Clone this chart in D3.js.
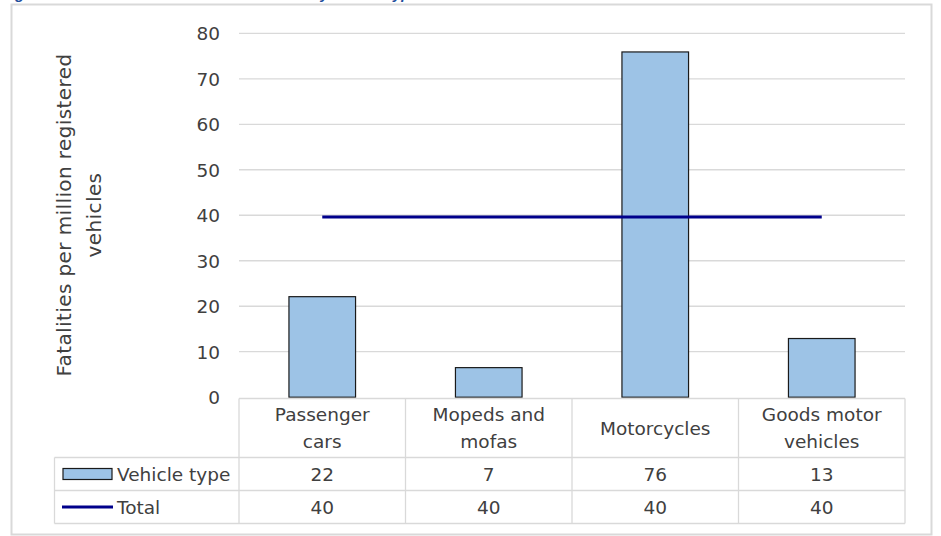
<!DOCTYPE html>
<html>
<head>
<meta charset="utf-8">
<script src="https://cdn.jsdelivr.net/npm/d3@7"></script>
<style>
  body { margin: 0; background: #fff; }
  svg { display: block; }
  text { font-family: "DejaVu Sans", sans-serif; fill: #404040; }
</style>
</head>
<body>
<div id="chart"></div>
<script>
// data
var categories = [["Passenger", "cars"], ["Mopeds and", "mofas"], ["Motorcycles"], ["Goods motor", "vehicles"]]
var vehicle_type = [22.1, 6.5, 75.9, 12.9]
var total = [39.6, 39.6, 39.6, 39.6]
var vehicle_type_labels = ["22", "7", "76", "13"]
var total_labels = ["40", "40", "40", "40"]
var y_ticks = [0, 10, 20, 30, 40, 50, 60, 70, 80]

var width = 941, height = 536
var fs = "18.5px"

var svg = d3.select("#chart").append("svg")
  .attr("width", width)
  .attr("height", height)

// title, mostly cut off by the top edge (as in the reference)
svg.append("text")
  .attr("x", 2)
  .attr("y", -1)
  .style("font-family", "Liberation Sans, sans-serif")
  .style("font-weight", "bold")
  .style("font-style", "italic")
  .style("font-size", "15px")
  .style("fill", "#1f4e9c")
  .text("Figure 5: Road deaths and the vehicle fleet by vehicle type")

// chart border
svg.append("rect")
  .attr("x", 11.5)
  .attr("y", 4.5)
  .attr("width", 920)
  .attr("height", 530)
  .attr("fill", "none")
  .attr("stroke", "#d9d9d9")
  .attr("stroke-width", 2)

var plot = { left: 239, right: 905, top: 33.3, bottom: 397.2 }

var x = d3.scaleBand()
  .domain(d3.range(categories.length))
  .range([plot.left, plot.right])
  .padding(0)

var y = d3.scaleLinear()
  .domain([0, 80])
  .range([plot.bottom, plot.top])

// gridlines
svg.append("g")
  .selectAll("line")
  .data(y_ticks.filter(function (d) { return d > 0 }))
  .enter().append("line")
    .attr("x1", plot.left)
    .attr("x2", plot.right)
    .attr("y1", function (d) { return y(d) })
    .attr("y2", function (d) { return y(d) })
    .attr("stroke", "#d9d9d9")
    .attr("stroke-width", 1.3)

// y axis labels
var yAxis = d3.axisLeft(y).tickValues(y_ticks).tickSize(0).tickPadding(0)
var yg = svg.append("g")
  .attr("transform", "translate(220,0)")
  .call(yAxis)
yg.select(".domain").remove()
yg.selectAll("text")
  .attr("dy", "0.36em")
  .style("font-size", fs)
  .style("font-family", "DejaVu Sans, sans-serif")
  .attr("fill", "#404040")

// axis title (two lines)
var ytitle = svg.append("text")
  .attr("transform", "translate(79,215) rotate(-90)")
  .attr("text-anchor", "middle")
  .style("font-size", "20px")
  .style("letter-spacing", "0.4px")
ytitle.append("tspan").attr("x", 0).attr("dy", "-0.4em").text("Fatalities per million registered")
ytitle.append("tspan").attr("x", 0).attr("dy", "1.5em").text("vehicles")

// bars
var barWidth = x.bandwidth() * 0.4
svg.append("g")
  .selectAll("rect")
  .data(vehicle_type)
  .enter().append("rect")
    .attr("x", function (d, i) { return x(i) + (x.bandwidth() - barWidth) / 2 })
    .attr("y", function (d) { return y(d) })
    .attr("width", barWidth)
    .attr("height", function (d) { return y(0) - y(d) })
    .attr("fill", "#9dc3e6")
    .attr("stroke", "#1a1a1a")
    .attr("stroke-width", 1.2)

// total line
var line = d3.line()
  .x(function (d, i) { return x(i) + x.bandwidth() / 2 })
  .y(function (d) { return y(d) })
svg.append("path")
  .datum(total)
  .attr("d", line)
  .attr("fill", "none")
  .attr("stroke", "#00008b")
  .attr("stroke-width", 3)

// data table
var table = { top: 398.5, row1: 457.5, row2: 490.5, bottom: 523.5, left: 54.5 }
var grid = svg.append("g")
  .attr("stroke", "#d9d9d9")
  .attr("stroke-width", 1.3)

grid.append("line").attr("x1", plot.left).attr("x2", plot.right).attr("y1", table.top).attr("y2", table.top)
;[table.row1, table.row2, table.bottom].forEach(function (yy) {
  grid.append("line").attr("x1", table.left).attr("x2", plot.right).attr("y1", yy).attr("y2", yy)
})
grid.append("line").attr("x1", table.left).attr("x2", table.left).attr("y1", table.row1).attr("y2", table.bottom)
d3.range(categories.length + 1).forEach(function (i) {
  var xx = i < categories.length ? x(i) : plot.right
  grid.append("line").attr("x1", xx).attr("x2", xx).attr("y1", table.top).attr("y2", table.bottom)
})

// category headers
svg.append("g")
  .selectAll("text")
  .data(categories)
  .enter().append("text")
    .attr("text-anchor", "middle")
    .style("font-size", fs)
    .each(function (lines, i) {
      var t = d3.select(this)
      var cx = x(i) + x.bandwidth() / 2
      var cy = (table.top + table.row1) / 2
      lines.forEach(function (s, k) {
        t.append("tspan")
          .attr("x", cx)
          .attr("y", cy + (k - (lines.length - 1) / 2) * 27)
          .attr("dy", "0.36em")
          .text(s)
      })
    })

function valueRow(labels, y0, y1) {
  svg.append("g")
    .selectAll("text")
    .data(labels)
    .enter().append("text")
      .attr("x", function (d, i) { return x(i) + x.bandwidth() / 2 })
      .attr("y", (y0 + y1) / 2)
      .attr("dy", "0.36em")
      .attr("text-anchor", "middle")
      .style("font-size", fs)
      .text(function (d) { return d })
}
valueRow(vehicle_type_labels, table.row1, table.row2)
valueRow(total_labels, table.row2, table.bottom)

// legend keys
var r1 = (table.row1 + table.row2) / 2, r2 = (table.row2 + table.bottom) / 2
svg.append("rect")
  .attr("x", 63).attr("y", r1 - 5.5).attr("width", 49).attr("height", 11)
  .attr("fill", "#9dc3e6").attr("stroke", "#1a1a1a").attr("stroke-width", 1.2)
svg.append("text").attr("x", 117).attr("y", r1).attr("dy", "0.36em")
  .style("font-size", fs).text("Vehicle type")
svg.append("line")
  .attr("x1", 62).attr("x2", 113).attr("y1", r2).attr("y2", r2)
  .attr("stroke", "#00008b").attr("stroke-width", 3)
svg.append("text").attr("x", 117).attr("y", r2).attr("dy", "0.36em")
  .style("font-size", fs).text("Total")
</script>
</body>
</html>
